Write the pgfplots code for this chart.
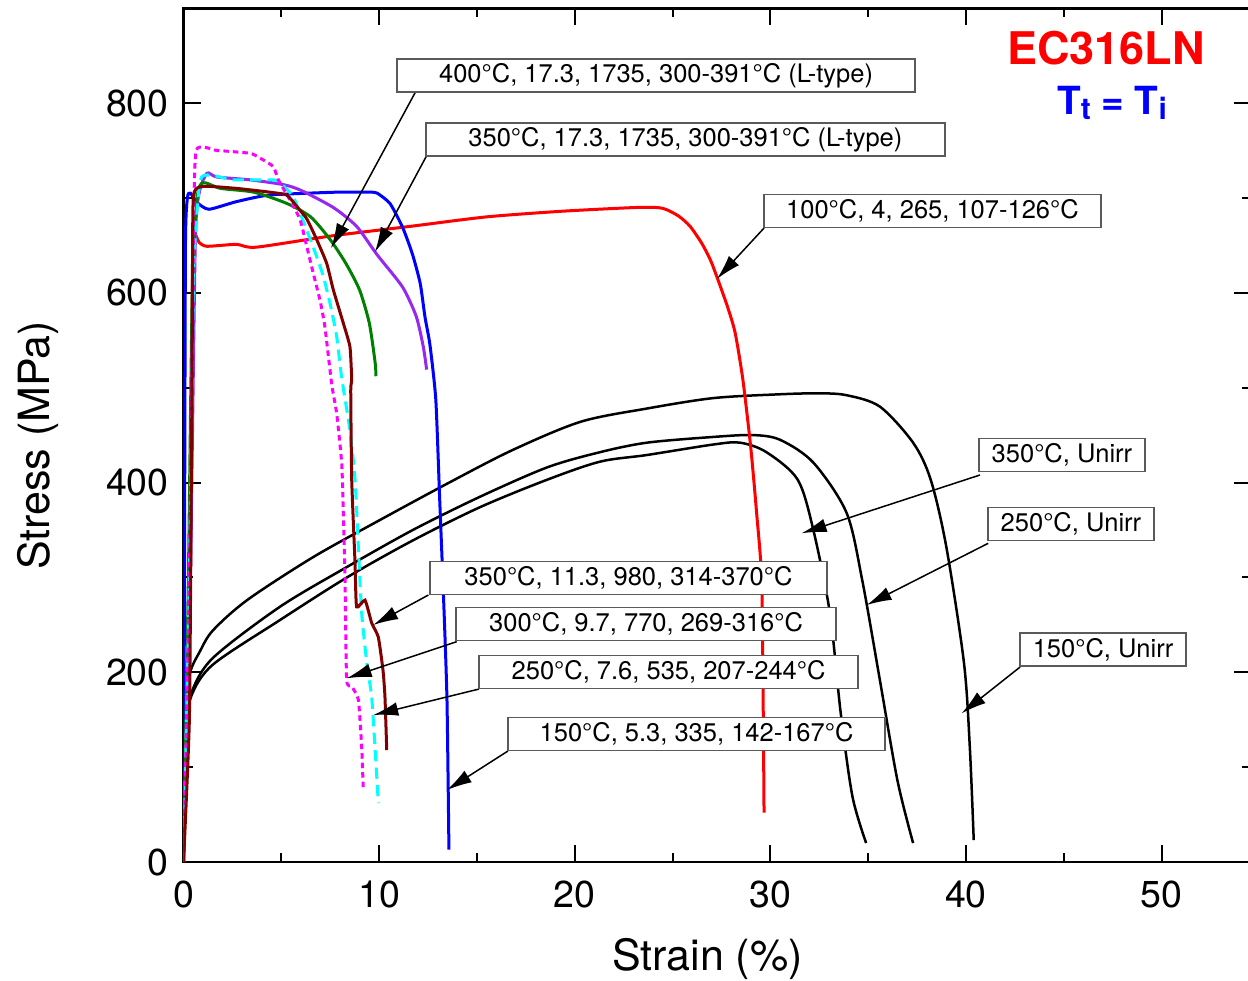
\documentclass[border=0pt]{standalone}
\usepackage{fontspec}
\setmainfont{TeX Gyre Heros}
\usepackage{pgfplots}
\pgfplotsset{compat=1.18}
\usetikzlibrary{arrows.meta}
\definecolor{cred}{RGB}{255,0,0}
\definecolor{cblue}{RGB}{0,0,255}
\definecolor{cpurple}{RGB}{150,40,240}
\definecolor{cgreen}{RGB}{0,128,0}
\definecolor{cbrown}{RGB}{128,0,0}
\definecolor{ccyan}{RGB}{0,255,255}
\definecolor{cmag}{RGB}{255,0,255}
\definecolor{boxgray}{RGB}{90,90,90}
\begin{document}
\begin{tikzpicture}
\begin{axis}[
 scale only axis, width=426.8pt, height=341.55pt,
 xmin=0, xmax=54.55, ymin=0, ymax=900,
 xtick={0,10,...,50}, minor xtick={5,15,...,55},
 ytick={0,200,...,800}, minor ytick={100,300,...,900},
 tick align=inside, major tick length=6.8pt, minor tick length=3.6pt,
 every tick/.style={black, line width=0.8pt},
 axis line style={line width=1.1pt},
 /pgf/number format/assume math mode=true,
 ticklabel style={font=\fontsize{15}{18}\selectfont},
 xticklabel style={yshift=-4pt},
 yticklabel style={xshift=-2.4pt},
 xlabel={Strain (\%)}, ylabel={Stress (MPa)},
 label style={font=\fontsize{17.2}{20}\selectfont},
 xlabel style={at={(axis description cs:0.491,-0.1136)}, anchor=center},
 ylabel style={at={(axis description cs:-0.1359,0.488)}, anchor=center, rotate=0},
 clip=true,
]
% 150 C Unirr
\addplot[black, line width=1pt, smooth, tension=0.5] coordinates {(0,0)(0.08,120)(0.15,160)(0.33,199)(0.84,222)(1.5,244)(3.25,276)(6.6,321)(10,360)(13.5,399)(16.8,434)(20.3,464)(23.7,478)(27.1,489)(30.5,493)(32.5,494)(33.9,492)(35.6,480)(37.3,442)(38.2,403)(39.0,332)(39.9,210)(40.2,121)(40.4,23)};
% 250 C Unirr
\addplot[black, line width=1pt, smooth, tension=0.5] coordinates {(0,0)(0.08,110)(0.15,140)(0.4,178)(1.5,215)(4.93,269)(8.36,311)(11.73,350)(15.16,385)(18.6,416)(21.3,432)(23.7,442)(27.07,448)(29.1,450)(30.5,445)(32.2,421)(33.9,368)(34.7,297)(35.6,192)(36.5,86)(37.3,20)};
% 350 C Unirr
\addplot[black, line width=1pt, smooth, tension=0.5] coordinates {(0,0)(0.08,110)(0.15,140)(0.4,175)(1.5,208)(4.93,255)(8.36,300)(11.73,339)(15.16,374)(18.6,403)(21.3,422)(23.7,429)(27.07,440)(28.45,442)(29.8,432)(31.4,403)(32.2,350)(33.05,262)(33.6,157)(34.2,69)(34.9,20)};
% 100 C red
\addplot[cred, line width=1.2pt, smooth, tension=0.4] coordinates {(0,0)(0.35,300)(0.45,600)(0.55,660)(0.8,653)(1.2,649)(2.7,651)(3.7,648)(7.6,660)(11.6,670)(15.5,680)(19.4,686)(23.3,690)(24.5,689)(25.3,681)(25.9,670)(26.5,652)(26.95,634)(27.3,615)(27.8,586)(28.2,558)(28.6,508)(29.0,437)(29.3,368)(29.56,297)(29.64,157)(29.68,52)};
% 150 C blue
\addplot[cblue, line width=1.2pt, smooth, tension=0.35] coordinates {(0,0)(0.05,300)(0.1,650)(0.2,700)(0.35,705)(0.7,695)(1.3,688)(2.7,696)(4.4,703)(7.8,706)(9.5,706)(9.9,705)(10.56,694)(11.2,669)(11.7,641)(12.1,610)(12.35,574)(12.6,545)(12.9,487)(13.1,381)(13.3,276)(13.47,171)(13.57,13)};
% 350 C L-type purple
\addplot[cpurple, line width=1.2pt, smooth, tension=0.4] coordinates {(0,0)(0.35,300)(0.6,650)(0.8,705)(1.2,726)(1.7,722)(3.4,719)(5.1,714)(6.0,708)(7.65,690)(8.85,670)(9.9,640)(11.2,606)(11.9,575)(12.26,543)(12.43,519)};
% 400 C L-type green
\addplot[cgreen, line width=1.2pt, smooth, tension=0.4] coordinates {(0,0)(0.25,300)(0.45,600)(0.7,700)(1.0,716)(1.9,710)(3.6,706)(5.3,694)(6.5,680)(7.5,656)(8.3,631)(9.0,603)(9.5,568)(9.8,526)(9.84,512)};
% 250 C cyan dashed
\addplot[ccyan, line width=1.2pt, dash pattern=on 4.5pt off 2.5pt, smooth, tension=0.35] coordinates {(0,0)(0.3,300)(0.5,600)(0.6,656)(0.93,722)(2.55,719)(4.59,719)(4.93,716)(5.61,701)(6.3,666)(6.81,638)(7.15,617)(7.49,589)(7.83,554)(8.09,510)(8.51,455)(8.77,403)(8.94,332)(9.11,262)(9.37,210)(9.62,174)(9.79,121)(9.96,62)};
% 300 C magenta dotted
\addplot[cmag, line width=1.2pt, dash pattern=on 2.2pt off 1.6pt, smooth, tension=0.3] coordinates {(0,0)(0.3,300)(0.5,650)(0.65,750)(1.7,750)(3.4,747)(3.91,742)(4.59,733)(4.85,719)(5.44,698)(5.96,677)(6.3,649)(6.64,620)(6.98,592)(7.23,564)(7.58,503)(7.83,473)(8.09,420)(8.17,367)(8.26,297)(8.34,192)(8.6,185)(8.94,171)(9.11,121)(9.19,76)};
% 350 C brown
\addplot[cbrown, line width=1.2pt, smooth, tension=0.3] coordinates {(0,0)(0.3,150)(0.4,400)(0.45,560)(0.5,700)(1.0,712)(2.72,710)(4.42,706)(5.28,703)(5.79,691)(6.3,678)(6.81,656)(7.32,631)(7.66,603)(8.17,568)(8.51,543)(8.6,508)(8.55,497)(8.6,403)(8.77,315)(8.85,269)(9.28,276)(9.62,252)(9.96,237)(10.2,202)(10.3,174)(10.39,118)};
% arrows
\begin{scope}[-{Latex[length=10pt,width=5.5pt]}, line width=0.6pt, black]
\draw (axis cs:11.86,811.6) -- (axis cs:7.54,647);
\draw (axis cs:12.45,745.2) -- (axis cs:9.79,643);
\draw (axis cs:29.68,668.2) -- (axis cs:27.27,614.5);
\draw (axis cs:40.72,407.9) -- (axis cs:31.6,346.5);
\draw (axis cs:41.14,335.9) -- (axis cs:34.93,270.9);
\draw (axis cs:42.77,205.5) -- (axis cs:39.78,156.7);
\draw (axis cs:12.52,281.4) -- (axis cs:9.7,249.8);
\draw (axis cs:13.97,232.2) -- (axis cs:8.34,193.6);
\draw (axis cs:15.11,182.3) -- (axis cs:9.7,154.9);
\draw (axis cs:16.59,117.0) -- (axis cs:13.47,75.9);
\end{scope}
\tikzset{lbox/.style={draw=boxgray, line width=0.7pt, fill=white, minimum height=13.2pt, inner sep=0pt, anchor=center, font=\fontsize{10.2}{12}\selectfont}}
\node[lbox, minimum width=207.2pt] at (axis cs:24.16,829.0) {400°C, 17.3, 1735, 300-391°C (L-type)};
\node[lbox, minimum width=207.6pt] at (axis cs:25.66,761.5) {350°C, 17.3, 1735, 300-391°C (L-type)};
\node[lbox, minimum width=134.8pt] at (axis cs:38.29,686.2) {100°C, 4, 265, 107-126°C};
\node[lbox, minimum width=66.4pt] at (axis cs:44.91,429.0) {350°C, Unirr};
\node[lbox, minimum width=66.4pt] at (axis cs:45.37,356.3) {250°C, Unirr};
\node[lbox, minimum width=66.4pt] at (axis cs:47.01,224.0) {150°C, Unirr};
\node[lbox, minimum width=158.8pt] at (axis cs:22.75,299.3) {350°C, 11.3, 980, 314-370°C};
\node[lbox, minimum width=152pt] at (axis cs:23.65,250.9) {300°C, 9.7, 770, 269-316°C};
\node[lbox, minimum width=151.6pt] at (axis cs:24.80,200.3) {250°C, 7.6, 535, 207-244°C};
\node[lbox, minimum width=150.8pt] at (axis cs:26.23,134.9) {150°C, 5.3, 335, 142-167°C};
\node[text=cred, font=\fontsize{18}{20}\selectfont\bfseries, inner sep=0pt] at (axis cs:47.16,858) {EC316LN};
\node[text=cblue, font=\fontsize{15.5}{18}\selectfont\bfseries, inner sep=0pt] at (axis cs:47.47,800) {T\raisebox{-2pt}{\fontsize{12}{14}\selectfont t} = T\raisebox{-2pt}{\fontsize{12}{14}\selectfont i}};
\end{axis}
\pgfresetboundingbox
\path[use as bounding box] (-73.4pt,-47.6pt) rectangle (425.8pt,344.8pt);
\end{tikzpicture}
\end{document}
